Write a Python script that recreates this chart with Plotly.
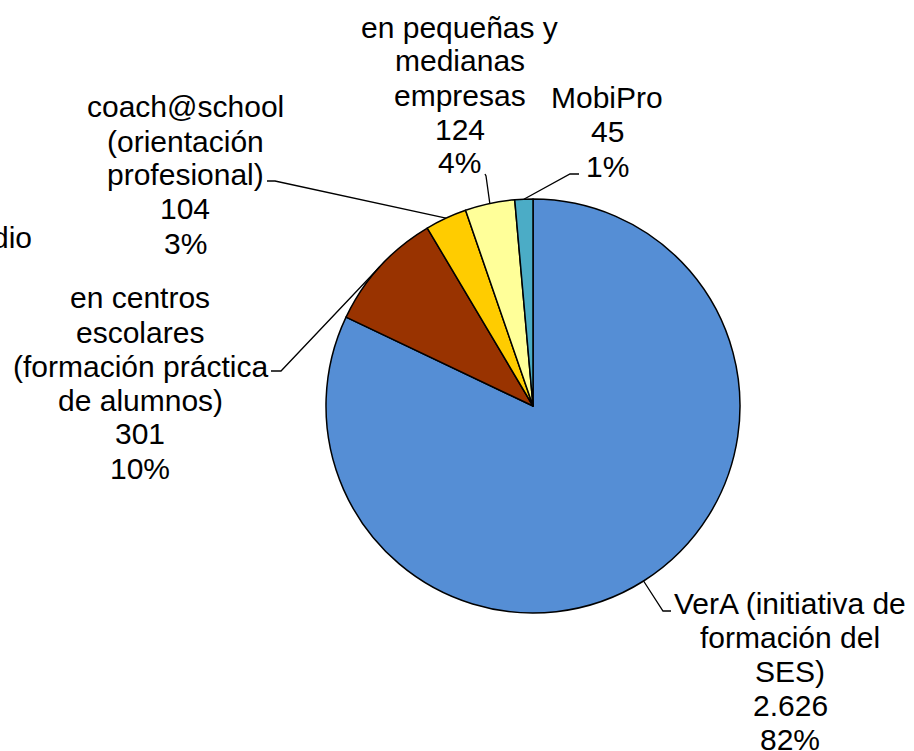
import math
import plotly.graph_objects as go

W, H = 914, 751

# ---- data ----
categories = [
    "VerA (initiativa de formación del SES)",
    "en centros escolares (formación práctica de alumnos)",
    "coach@school (orientación profesional)",
    "en pequeñas y medianas empresas",
    "MobiPro",
]
label_lines = [
    ["VerA (initiativa de", "formación del", "SES)"],
    ["en centros", "escolares", "(formación práctica", "de alumnos)"],
    ["coach@school", "(orientación", "profesional)"],
    ["en pequeñas y", "medianas", "empresas"],
    ["MobiPro"],
]
values = [2626, 301, 104, 124, 45]
percent_labels = ["82%", "10%", "3%", "4%", "1%"]
colors = ["#558ED5", "#993300", "#FFCC00", "#FFFF99", "#4BACC6"]

# ---- layout (pixels) ----
cx, cy, r = 533, 406, 207
# label block: centre x, first line centre y
label_pos = [(790, 603), (140, 298), (185, 107), (460, 27), (607, 98)]
line_gap = 34
# leader elbow and end points (pixels)
leader_elbow = [(663, 611), (281, 371), (275, 181), (486, 176), (570, 174)]
leader_end = [(671, 611), (271, 371), (267, 181), (485, 174), (579, 174)]


def px(x):
    return x / W


def py(y):
    return 1 - y / H


fig = go.Figure()
fig.add_trace(go.Pie(
    labels=categories,
    values=values,
    sort=False,
    direction="clockwise",
    rotation=0,
    textinfo="none",
    hoverinfo="label+value",
    marker=dict(colors=colors, line=dict(color="black", width=1.5)),
    domain=dict(x=[px(cx - r), px(cx + r)], y=[py(cy + r), py(cy - r)]),
    showlegend=False,
))

font = dict(family="Liberation Sans, Arial, sans-serif", size=30, color="black")
annotations = []
shapes = []
total = sum(values)
cum = 0
for i, v in enumerate(values):
    mid = (cum + v / 2) / total * 2 * math.pi
    cum += v
    ex = cx + r * math.sin(mid)
    ey = cy - r * math.cos(mid)
    lines = label_lines[i] + [f"{v:,}".replace(",", "."), percent_labels[i]]
    lx, ly = label_pos[i]
    for k, t in enumerate(lines):
        annotations.append(dict(
            text=t, x=px(lx), y=py(ly + k * line_gap), xref="paper", yref="paper",
            xanchor="center", yanchor="middle", showarrow=False, font=font,
        ))
    (bx, by), (fx, fy) = leader_elbow[i], leader_end[i]
    shapes.append(dict(
        type="path", xref="paper", yref="paper",
        path=f"M {px(ex)} {py(ey)} L {px(bx)} {py(by)} L {px(fx)} {py(fy)}",
        line=dict(color="black", width=1.3),
    ))

# label cut off at the left edge of the picture (as in the reference)
annotations.append(dict(
    text="dio", x=px(34), y=py(237), xref="paper", yref="paper",
    xanchor="right", yanchor="middle", showarrow=False, font=font,
))

fig.update_layout(
    width=W, height=H,
    margin=dict(l=0, r=0, t=0, b=0),
    paper_bgcolor="white", plot_bgcolor="white",
    annotations=annotations, shapes=shapes,
)
fig.write_html(
    "out.html",
    config={"displayModeBar": False},
    post_script="document.body.style.margin='0';document.body.style.overflow='hidden';",
)
